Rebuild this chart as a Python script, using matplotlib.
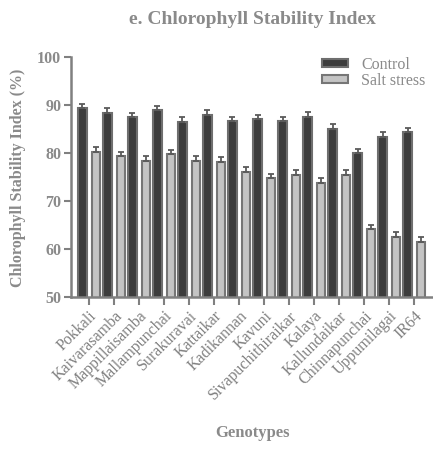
import numpy as np
import matplotlib
matplotlib.use("Agg")
import matplotlib.pyplot as plt

genotypes = ["Pokkali", "Kaivarasamba", "Mappillaisamba", "Mallampunchai", "Surakuravai",
             "Kattaikar", "Kadikannan", "Kavuni", "Sivapuchithiraikar", "Kalaya",
             "Kallundaikar", "Chinnapunchai", "Uppumilagai", "IR64"]
control = [89.3, 88.4, 87.4, 88.9, 86.5, 88.0, 86.7, 87.1, 86.7, 87.6, 85.1, 79.9, 83.4, 84.4]
salt = [80.3, 79.3, 78.4, 79.7, 78.4, 78.1, 76.1, 74.7, 75.5, 73.7, 75.5, 64.1, 62.6, 61.4]
control_err = [0.9, 0.9, 0.9, 0.9, 0.9, 0.9, 0.9, 0.9, 0.9, 0.9, 0.9, 0.9, 0.9, 0.9]
salt_err = [1.0, 1.0, 1.0, 1.0, 1.0, 1.0, 1.0, 1.0, 1.0, 1.0, 1.0, 1.0, 1.0, 1.0]

grey_txt = "#8a8a8a"
plt.rcParams["font.family"] = ["Liberation Serif", "DejaVu Serif"]

fig = plt.figure(figsize=(4.33, 4.49), dpi=100)
ax = fig.add_axes([71 / 433, 1 - 297 / 449, (432 - 71) / 433, (297 - 57) / 449])

x = np.arange(len(genotypes))
w = 0.34
off = 0.27
ax.bar(x - off, control, w, color="#3c3c3c", edgecolor="#6e6e6e", linewidth=1.5,
       label="Control", zorder=2)
ax.bar(x + off, salt, w, color="#c4c4c4", edgecolor="#767676", linewidth=1.5,
       label="Salt stress", zorder=2)
ax.errorbar(x - off, control, yerr=[np.zeros(len(x)), control_err], fmt="none",
            ecolor="#5a5a5a", elinewidth=1.3, capsize=2.2, capthick=1.3, zorder=3)
ax.errorbar(x + off, salt, yerr=[np.zeros(len(x)), salt_err], fmt="none",
            ecolor="#5a5a5a", elinewidth=1.3, capsize=2.2, capthick=1.3, zorder=3)

ax.set_ylim(50, 100)
ax.set_xlim(-0.72, 13.7)
ax.set_yticks([50, 60, 70, 80, 90, 100])
ax.set_xticks(x)
ax.set_xticklabels(genotypes, rotation=45, ha="right", rotation_mode="anchor",
                   fontsize=11.5, color=grey_txt)
for lab in ax.get_yticklabels():
    lab.set_fontweight("bold")
ax.tick_params(axis="y", colors="#808080", labelcolor=grey_txt, labelsize=11.5,
               width=1.5, length=5, pad=2)
ax.tick_params(axis="x", colors="#808080", width=1.5, length=6, pad=2)

for s in ["top", "right"]:
    ax.spines[s].set_visible(False)
for s in ["left", "bottom"]:
    ax.spines[s].set_color("#808080")
    ax.spines[s].set_linewidth(1.8)

fig.text(18 / 433, 1 - 178 / 449, "Chlorophyll Stability Index (%)", rotation=90,
         ha="center", va="center", fontsize=11.5, fontweight="bold", color=grey_txt)
fig.text(252 / 433, 1 - 433 / 449, "Genotypes", ha="center", va="center",
         fontsize=12, fontweight="bold", color=grey_txt)
fig.text(252 / 433, 1 - 19 / 449, "e. Chlorophyll Stability Index", ha="center",
         va="center", fontsize=14, fontweight="bold", color=grey_txt)

leg = fig.legend(loc="upper left", bbox_to_anchor=(322 / 433, 1 - 57 / 449), frameon=False,
                 fontsize=11.5, handlelength=1.6, handleheight=0.42, handletextpad=0.85,
                 labelspacing=0.0, borderpad=0, borderaxespad=0)
for t in leg.get_texts():
    t.set_color(grey_txt)

fig.savefig("out.png", dpi=100)
